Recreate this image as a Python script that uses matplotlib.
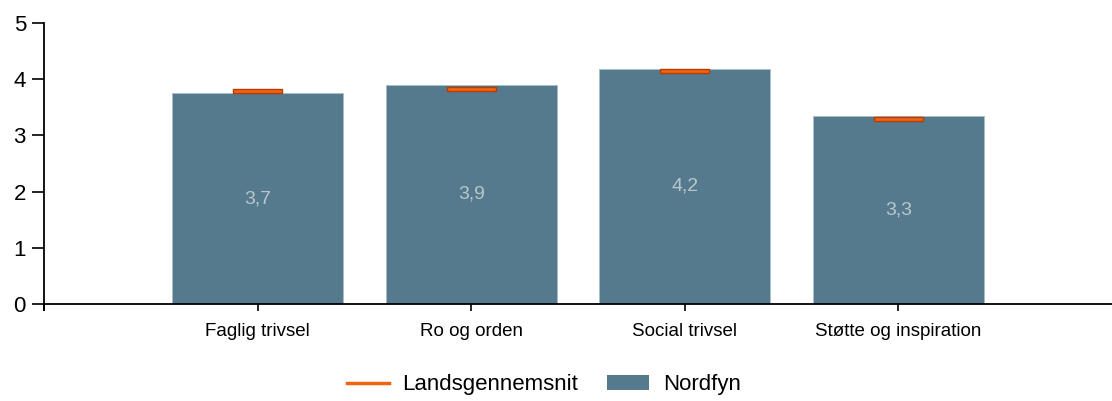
import numpy as np
import matplotlib.pyplot as plt
from matplotlib.lines import Line2D
from matplotlib.patches import Patch

plt.rcParams['font.family'] = ['Liberation Sans', 'DejaVu Sans']

categories = ['Faglig trivsel', 'Ro og orden', 'Social trivsel', 'Støtte og inspiration']
nordfyn = [3.75, 3.90, 4.19, 3.34]
labels = ['3,7', '3,9', '4,2', '3,3']
landsgennemsnit = [3.79, 3.83, 4.15, 3.29]

bar_color = '#557a8d'
avg_color = '#f06414'

fig = plt.figure(figsize=(11.12, 4.01), dpi=100)
ax = fig.add_axes([0.0396, 0.2419, 0.9604, 0.7007])

x = np.arange(1, len(categories) + 1)
ax.bar(x, nordfyn, width=0.8, color=bar_color, edgecolor='#a9bcc8', linewidth=0.7)

for xi, v, lab in zip(x, nordfyn, labels):
    ax.text(xi, v / 2, lab, ha='center', va='center', fontsize=14, color='#b9c6ce')

# average markers as small flat bars
ax.bar(x, 0.07, bottom=np.array(landsgennemsnit) - 0.035, width=0.23,
       color=avg_color, edgecolor='#b83c00', linewidth=1.0)

ax.set_xlim(0, 5)
ax.set_ylim(0, 5)
ax.set_xticks([0, 1, 2, 3, 4])
ax.set_xticklabels([''] + categories, fontsize=13.5)
ax.set_yticks(range(6))
ax.tick_params(axis='y', labelsize=16, length=9, width=1.2, pad=4)
ax.tick_params(axis='x', length=5, width=1.2, pad=9)
for s in ['top', 'right']:
    ax.spines[s].set_visible(False)
ax.spines['left'].set_linewidth(1.3)
ax.spines['bottom'].set_linewidth(1.3)
ax.spines['left'].set_bounds(-0.1, 5)

handles = [Line2D([0], [0], color=avg_color, lw=2.5),
           Patch(facecolor=bar_color)]
fig.legend(handles, ['Landsgennemsnit', 'Nordfyn'], loc='center',
           bbox_to_anchor=(0.489, 0.04), ncol=2, frameon=False, fontsize=16,
           handlelength=1.9, handletextpad=0.6, columnspacing=1.3)

fig.savefig('out.png', dpi=100)
